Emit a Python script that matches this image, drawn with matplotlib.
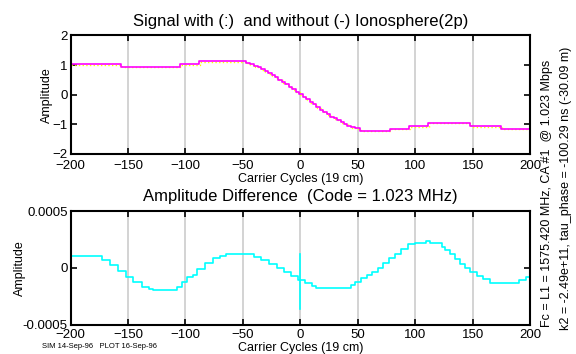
import matplotlib
matplotlib.use("Agg")
import matplotlib.pyplot as plt
import matplotlib.transforms as mtransforms

plt.rcParams['font.family'] = ['Liberation Sans', 'DejaVu Sans']

# Code signal (staircase), step edges in carrier cycles and amplitude
sig_x = [-200, -156, -105, -88, -47, -44, -40, -37, -34, -31, -28, -25, -22,
         -19, -16, -13, -10, -7, -4, -1, 2, 5, 8, 11, 14, 17, 20, 23, 26, 29,
         32, 35, 38, 41, 44, 48, 52, 78, 95, 111, 148, 175, 200]
sig_y = [1.03, 0.95, 1.03, 1.12, 1.08, 1.03, 0.97, 0.92, 0.86, 0.80, 0.73,
         0.66, 0.60, 0.51, 0.43, 0.35, 0.26, 0.18, 0.10, 0.02, -0.07, -0.15,
         -0.24, -0.32, -0.42, -0.50, -0.58, -0.66, -0.74, -0.80, -0.86, -0.92,
         -0.98, -1.04, -1.10, -1.13, -1.21, -1.15, -1.06, -0.94, -1.06, -1.15,
         -1.15]

# Difference between ionosphere and no-ionosphere signals
diff_x = [-200, -173, -166, -159, -152, -146, -138, -132, -128, -107, -103,
          -99, -93, -90, -83, -76, -70, -65, -40, -34, -27, -20, -14, -8, -2,
          4, 10, 14, 44, 48, 53, 58, 62, 68, 72, 77, 82, 88, 94, 100, 109,
          113, 123, 126, 130, 135, 139, 143, 148, 154, 159, 165, 168, 190,
          196, 200]
diff_y = [1.00e-4, 0.68e-4, 0.24e-4, -0.29e-4, -0.79e-4, -1.28e-4, -1.67e-4,
          -1.85e-4, -2.0e-4, -1.67e-4, -1.28e-4, -0.79e-4, -0.64e-4,
          -0.11e-4, 0.39e-4, 0.83e-4, 1.05e-4, 1.21e-4, 0.97e-4, 0.68e-4,
          0.33e-4, 0.0, -0.35e-4, -0.70e-4, -1.08e-4, -1.37e-4, -1.58e-4,
          -1.81e-4, -1.52e-4, -1.22e-4, -0.93e-4, -0.64e-4, -0.35e-4,
          -0.05e-4, 0.39e-4, 0.83e-4, 1.21e-4, 1.62e-4, 2.09e-4, 2.15e-4,
          2.38e-4, 2.15e-4, 1.85e-4, 1.56e-4, 1.18e-4, 0.74e-4, 0.30e-4,
          -0.05e-4, -0.35e-4, -0.73e-4, -1.02e-4, -1.31e-4, -1.31e-4,
          -1.08e-4, -0.84e-4, -0.84e-4]

# Glitch at the code transition
spike_x = [0, 0]
spike_y = [1.18e-4, -3.66e-4]

xticks = [-200, -150, -100, -50, 0, 50, 100, 150, 200]
top_yticks = [-2, -1, 0, 1, 2]
bot_yticks = [-0.0005, 0, 0.0005]
bot_yticklabels = ['-0.0005', '0', '0.0005']

fig = plt.figure(figsize=(5.76, 3.54), dpi=100)
ax1 = fig.add_axes([0.1224, 0.565, 0.798, 0.335])
ax2 = fig.add_axes([0.1224, 0.0833, 0.798, 0.3206])


def style(ax, ylab_x, xpad):
    ax.set_xlim(-200, 200)
    ax.set_xticks(xticks)
    for x in xticks[1:-1]:
        ax.axvline(x, color='#cccccc', lw=1.2, zorder=0)
    for s in ax.spines.values():
        s.set_linewidth(1.5)
        s.set_color('black')
    ax.tick_params(direction='in', top=True, right=True, length=4,
                   width=1.2, labelsize=9.5, pad=2)
    ax.tick_params(axis='x', pad=xpad)
    ax.set_xlabel('Carrier Cycles (19 cm)', fontsize=9, labelpad=0.5)
    ax.set_ylabel('Amplitude', fontsize=9)
    ax.yaxis.set_label_coords(ylab_x, 0.5)


# Top panel
shift = mtransforms.offset_copy(ax1.transData, fig=fig, x=0.7, y=-0.7,
                                units='dots')
ax1.step(sig_x, sig_y, where='post', color='#ffff00', lw=1.0, ls=':',
         transform=shift)
ax1.step(sig_x, sig_y, where='post', color='#ff00ff', lw=1.2)
ax1.set_ylim(-2, 2)
ax1.set_yticks(top_yticks)
style(ax1, -0.038, 4.5)
ax1.set_title('Signal with (:)  and without (-) Ionosphere(2p)',
              fontsize=12, pad=7)

# Bottom panel
ax2.step(diff_x, diff_y, where='post', color='#00ffff', lw=1.2)
ax2.plot(spike_x, spike_y, color='#00ffff', lw=1.2)
ax2.set_ylim(-0.0005, 0.0005)
ax2.set_yticks(bot_yticks)
ax2.set_yticklabels(bot_yticklabels)
style(ax2, -0.097, 3.5)
ax2.set_title('Amplitude Difference  (Code = 1.023 MHz)', fontsize=12, pad=7)

fig.text(0.949, 0.075, 'Fc = L1 = 1575.420 MHz, CA #1  @ 1.023 Mbps',
         rotation=90, fontsize=9, ha='center', va='bottom')
fig.text(0.982, 0.068, 'k2 = -2.49e+11, tau_phase = -100.29 ns (-30.09 m)',
         rotation=90, fontsize=9, ha='center', va='bottom')
fig.text(0.073, 0.01, 'SIM 14-Sep-96   PLOT 16-Sep-96', fontsize=5.5,
         ha='left', va='bottom')

fig.savefig('out.png', dpi=100, facecolor='white')
